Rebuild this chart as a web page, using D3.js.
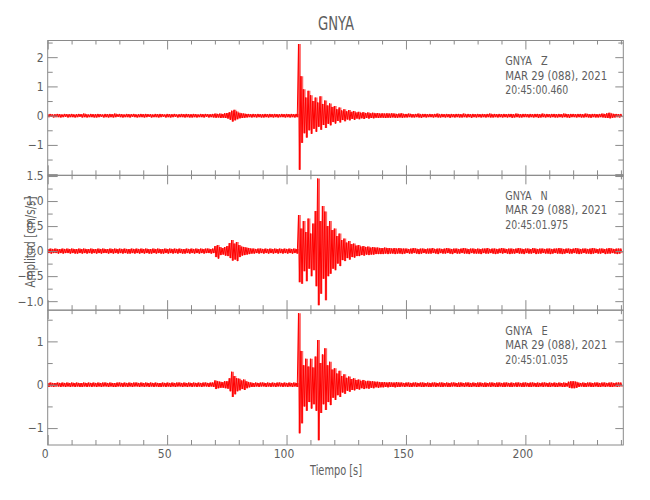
<!DOCTYPE html>
<html><head><meta charset="utf-8">
<script src="https://cdn.jsdelivr.net/npm/d3@7"></script>
<style>
body{margin:0;background:#fff}
svg{display:block}
text{font-family:"Liberation Sans Narrow","DejaVu Sans Condensed","Arial Narrow",sans-serif;fill:#5e5e5e}
</style>
</head><body><svg id="chart" width="650" height="500"></svg>
<script>
const station = "GNYA";
const components = ["Z","N","E"];
const dateLabel = "MAR 29 (088), 2021";
const startTimes = ["20:45:00.460","20:45:01.975","20:45:01.035"];
const xLabel = "Tiempo [s]";
const yLabel = "Amplitud [cm/s/s]";
const xTicks = [0,50,100,150,200];
const yTicksZ = [-1,0,1,2];
const yTicksN = [-1.0,-0.5,0.0,0.5,1.0,1.5];
const yTicksE = [-1,0,1];

// positive peaks at t = i s, negative troughs at t = i + 0.5 s
const zPeaks = [
0.05,0.06,0.04,0.05,0.06,0.05,0.04,0.06,0.05,0.05,
0.06,0.04,0.05,0.06,0.05,0.07,0.05,0.04,0.06,0.05,
0.05,0.06,0.05,0.04,0.06,0.05,0.06,0.05,0.07,0.05,
0.06,0.05,0.04,0.06,0.05,0.05,0.06,0.04,0.05,0.06,
0.05,0.06,0.05,0.05,0.04,0.06,0.05,0.06,0.05,0.04,
0.06,0.05,0.05,0.06,0.04,0.05,0.06,0.05,0.06,0.05,
0.05,0.06,0.05,0.04,0.06,0.05,0.06,0.05,0.05,0.06,
0.07,0.06,0.07,0.06,0.08,0.09,0.12,0.17,0.2,0.14,
0.1,0.08,0.07,0.06,0.06,0.05,0.06,0.05,0.06,0.05,
0.05,0.06,0.05,0.06,0.05,0.06,0.05,0.05,0.06,0.05,
0.06,0.05,0.06,0.05,0.06,2.45,1.35,0.9,0.62,0.85,
0.7,0.5,0.62,0.45,0.66,0.4,0.52,0.35,0.42,0.3,
0.33,0.22,0.28,0.18,0.22,0.15,0.19,0.13,0.16,0.11,
0.13,0.1,0.12,0.09,0.11,0.08,0.1,0.08,0.09,0.07,
0.08,0.07,0.08,0.07,0.08,0.07,0.06,0.07,0.08,0.06,
0.06,0.07,0.06,0.05,0.06,0.07,0.05,0.06,0.06,0.05,
0.06,0.05,0.06,0.07,0.05,0.06,0.05,0.06,0.05,0.06,
0.05,0.06,0.06,0.05,0.07,0.05,0.06,0.05,0.06,0.05,
0.06,0.05,0.06,0.05,0.06,0.07,0.05,0.06,0.05,0.06,
0.05,0.06,0.05,0.06,0.06,0.05,0.07,0.06,0.05,0.06,
0.06,0.05,0.06,0.05,0.06,0.06,0.05,0.07,0.05,0.06,
0.05,0.06,0.06,0.05,0.06,0.05,0.07,0.06,0.05,0.06,
0.06,0.05,0.06,0.06,0.05,0.07,0.06,0.05,0.06,0.06,
0.05,0.06,0.07,0.06,0.08,0.1,0.07,0.06,0.06,0.05,
0.06];
const zTroughs = [
-0.05,-0.04,-0.06,-0.05,-0.05,-0.06,-0.05,-0.04,-0.06,-0.05,
-0.05,-0.06,-0.05,-0.04,-0.06,-0.05,-0.06,-0.05,-0.05,-0.06,
-0.06,-0.05,-0.04,-0.06,-0.05,-0.06,-0.05,-0.06,-0.05,-0.04,
-0.05,-0.06,-0.05,-0.05,-0.06,-0.04,-0.05,-0.06,-0.05,-0.05,
-0.06,-0.05,-0.04,-0.06,-0.05,-0.05,-0.06,-0.05,-0.04,-0.06,
-0.05,-0.06,-0.05,-0.04,-0.06,-0.05,-0.05,-0.06,-0.05,-0.06,
-0.06,-0.05,-0.06,-0.05,-0.05,-0.06,-0.04,-0.06,-0.05,-0.06,
-0.07,-0.06,-0.08,-0.07,-0.08,-0.1,-0.14,-0.2,-0.16,-0.12,
-0.09,-0.08,-0.07,-0.06,-0.05,-0.06,-0.05,-0.06,-0.05,-0.06,
-0.06,-0.05,-0.06,-0.05,-0.06,-0.05,-0.06,-0.05,-0.05,-0.06,
-0.05,-0.06,-0.05,-0.06,-0.05,-1.85,-0.93,-0.6,-0.75,-0.5,
-0.62,-0.45,-0.55,-0.38,-0.48,-0.32,-0.42,-0.28,-0.33,-0.22,
-0.27,-0.18,-0.23,-0.15,-0.19,-0.13,-0.16,-0.11,-0.14,-0.1,
-0.12,-0.09,-0.11,-0.08,-0.1,-0.08,-0.09,-0.07,-0.08,-0.07,
-0.07,-0.08,-0.07,-0.07,-0.06,-0.07,-0.07,-0.06,-0.07,-0.06,
-0.06,-0.05,-0.06,-0.06,-0.05,-0.06,-0.07,-0.05,-0.06,-0.05,
-0.05,-0.06,-0.05,-0.06,-0.06,-0.05,-0.06,-0.05,-0.07,-0.05,
-0.06,-0.05,-0.06,-0.06,-0.05,-0.06,-0.05,-0.07,-0.05,-0.06,
-0.05,-0.06,-0.05,-0.06,-0.05,-0.06,-0.06,-0.05,-0.06,-0.05,
-0.06,-0.05,-0.06,-0.05,-0.07,-0.06,-0.05,-0.06,-0.06,-0.05,
-0.05,-0.06,-0.05,-0.06,-0.05,-0.07,-0.06,-0.05,-0.06,-0.05,
-0.06,-0.05,-0.06,-0.06,-0.05,-0.06,-0.05,-0.06,-0.07,-0.05,
-0.05,-0.06,-0.05,-0.06,-0.06,-0.05,-0.06,-0.07,-0.05,-0.06,
-0.06,-0.05,-0.06,-0.07,-0.08,-0.09,-0.07,-0.06,-0.05,-0.06,
-0.05];

const nPeaks = [
0.04,0.05,0.04,0.05,0.04,0.04,0.05,0.04,0.05,0.04,
0.05,0.04,0.04,0.05,0.04,0.05,0.04,0.04,0.05,0.04,
0.04,0.05,0.04,0.05,0.04,0.04,0.05,0.04,0.05,0.04,
0.05,0.04,0.05,0.04,0.04,0.05,0.04,0.05,0.04,0.05,
0.04,0.05,0.04,0.04,0.05,0.04,0.05,0.04,0.04,0.05,
0.04,0.05,0.04,0.05,0.04,0.05,0.04,0.04,0.05,0.04,
0.05,0.04,0.05,0.04,0.05,0.04,0.05,0.05,0.04,0.05,
0.1,0.12,0.08,0.06,0.08,0.1,0.16,0.22,0.15,0.18,
0.12,0.09,0.08,0.07,0.06,0.05,0.05,0.04,0.05,0.05,
0.04,0.05,0.04,0.05,0.04,0.05,0.04,0.05,0.04,0.05,
0.04,0.05,0.04,0.05,0.04,0.72,0.45,0.6,0.38,0.65,
0.35,0.55,0.8,1.45,0.6,0.9,0.79,0.5,0.6,0.42,
0.45,0.3,0.35,0.22,0.25,0.17,0.2,0.14,0.15,0.11,
0.12,0.09,0.1,0.08,0.09,0.07,0.08,0.07,0.07,0.06,
0.06,0.07,0.06,0.06,0.05,0.06,0.05,0.06,0.05,0.05,
0.05,0.04,0.05,0.06,0.05,0.04,0.05,0.05,0.04,0.05,
0.05,0.06,0.04,0.05,0.05,0.04,0.05,0.06,0.05,0.04,
0.05,0.05,0.04,0.05,0.06,0.05,0.04,0.05,0.05,0.04,
0.05,0.04,0.05,0.05,0.06,0.04,0.05,0.05,0.04,0.05,
0.06,0.05,0.04,0.05,0.05,0.04,0.05,0.06,0.05,0.04,
0.05,0.05,0.04,0.06,0.05,0.04,0.05,0.05,0.04,0.05,
0.05,0.04,0.05,0.05,0.06,0.05,0.04,0.05,0.05,0.04,
0.05,0.06,0.05,0.04,0.05,0.05,0.04,0.05,0.06,0.05,
0.04,0.05,0.05,0.04,0.05,0.06,0.05,0.04,0.05,0.05,
0.05];
const nTroughs = [
-0.04,-0.05,-0.04,-0.04,-0.05,-0.04,-0.05,-0.04,-0.04,-0.05,
-0.04,-0.05,-0.05,-0.04,-0.05,-0.04,-0.05,-0.04,-0.05,-0.04,
-0.05,-0.04,-0.05,-0.04,-0.04,-0.05,-0.04,-0.05,-0.04,-0.05,
-0.04,-0.05,-0.04,-0.05,-0.05,-0.04,-0.05,-0.04,-0.05,-0.04,
-0.05,-0.04,-0.05,-0.05,-0.04,-0.05,-0.04,-0.05,-0.05,-0.04,
-0.05,-0.04,-0.05,-0.04,-0.05,-0.04,-0.05,-0.05,-0.04,-0.05,
-0.04,-0.05,-0.04,-0.05,-0.04,-0.05,-0.04,-0.04,-0.05,-0.04,
-0.12,-0.15,-0.08,-0.07,-0.09,-0.1,-0.14,-0.19,-0.17,-0.2,
-0.12,-0.09,-0.08,-0.07,-0.06,-0.05,-0.05,-0.04,-0.05,-0.04,
-0.05,-0.04,-0.05,-0.04,-0.05,-0.04,-0.05,-0.04,-0.05,-0.04,
-0.05,-0.04,-0.05,-0.04,-0.05,-0.62,-0.65,-0.4,-0.6,-0.35,
-0.5,-0.38,-0.7,-1.08,-0.85,-0.55,-0.98,-0.5,-0.45,-0.35,
-0.38,-0.25,-0.3,-0.18,-0.2,-0.14,-0.17,-0.12,-0.13,-0.1,
-0.1,-0.08,-0.09,-0.07,-0.08,-0.07,-0.07,-0.06,-0.06,-0.06,
-0.06,-0.05,-0.06,-0.05,-0.05,-0.06,-0.05,-0.05,-0.06,-0.05,
-0.04,-0.05,-0.05,-0.04,-0.05,-0.06,-0.05,-0.04,-0.05,-0.05,
-0.05,-0.04,-0.05,-0.06,-0.04,-0.05,-0.05,-0.04,-0.05,-0.06,
-0.04,-0.05,-0.05,-0.04,-0.05,-0.05,-0.06,-0.04,-0.05,-0.05,
-0.05,-0.06,-0.04,-0.05,-0.05,-0.04,-0.05,-0.06,-0.05,-0.04,
-0.05,-0.04,-0.05,-0.06,-0.05,-0.05,-0.04,-0.05,-0.05,-0.06,
-0.04,-0.05,-0.05,-0.04,-0.06,-0.05,-0.05,-0.04,-0.05,-0.05,
-0.06,-0.05,-0.04,-0.05,-0.05,-0.06,-0.05,-0.04,-0.05,-0.05,
-0.04,-0.05,-0.06,-0.05,-0.04,-0.05,-0.05,-0.06,-0.05,-0.04,
-0.05,-0.05,-0.04,-0.06,-0.05,-0.05,-0.04,-0.05,-0.06,-0.05,
-0.04];

const ePeaks = [
0.04,0.05,0.04,0.04,0.05,0.04,0.05,0.04,0.05,0.04,
0.05,0.04,0.05,0.04,0.04,0.05,0.04,0.05,0.04,0.05,
0.04,0.05,0.04,0.05,0.05,0.04,0.05,0.04,0.04,0.05,
0.05,0.04,0.05,0.04,0.05,0.04,0.05,0.05,0.04,0.05,
0.04,0.05,0.04,0.05,0.04,0.05,0.04,0.04,0.05,0.04,
0.05,0.04,0.05,0.04,0.05,0.05,0.04,0.05,0.04,0.05,
0.04,0.05,0.04,0.05,0.04,0.05,0.05,0.04,0.05,0.05,
0.1,0.08,0.07,0.06,0.08,0.08,0.15,0.3,0.2,0.15,
0.14,0.1,0.12,0.08,0.06,0.05,0.04,0.05,0.04,0.05,
0.05,0.04,0.05,0.04,0.05,0.04,0.05,0.05,0.04,0.05,
0.04,0.05,0.04,0.05,0.04,1.65,0.78,0.45,0.6,0.42,
0.6,0.4,0.65,1.03,0.5,0.7,0.84,0.45,0.53,0.35,
0.38,0.26,0.32,0.2,0.24,0.16,0.19,0.13,0.15,0.11,
0.12,0.09,0.11,0.08,0.09,0.08,0.08,0.07,0.07,0.06,
0.06,0.06,0.05,0.06,0.05,0.05,0.06,0.05,0.05,0.04,
0.05,0.05,0.04,0.05,0.05,0.04,0.05,0.05,0.04,0.05,
0.04,0.05,0.05,0.04,0.05,0.05,0.04,0.05,0.04,0.05,
0.05,0.04,0.05,0.05,0.04,0.05,0.05,0.04,0.05,0.04,
0.05,0.05,0.04,0.05,0.04,0.05,0.05,0.04,0.05,0.05,
0.04,0.05,0.05,0.04,0.05,0.04,0.05,0.05,0.04,0.05,
0.05,0.04,0.05,0.05,0.04,0.05,0.04,0.05,0.05,0.04,
0.05,0.04,0.05,0.04,0.05,0.04,0.05,0.04,0.07,0.08,
0.08,0.07,0.05,0.04,0.05,0.04,0.05,0.05,0.04,0.05,
0.05,0.04,0.05,0.05,0.04,0.05,0.05,0.04,0.05,0.05,
0.05];
const eTroughs = [
-0.05,-0.04,-0.05,-0.04,-0.04,-0.05,-0.04,-0.05,-0.04,-0.05,
-0.04,-0.05,-0.04,-0.05,-0.05,-0.04,-0.05,-0.04,-0.05,-0.04,
-0.05,-0.04,-0.05,-0.04,-0.04,-0.05,-0.04,-0.05,-0.05,-0.04,
-0.04,-0.05,-0.04,-0.05,-0.04,-0.05,-0.04,-0.04,-0.05,-0.04,
-0.05,-0.04,-0.05,-0.04,-0.05,-0.04,-0.05,-0.05,-0.04,-0.05,
-0.04,-0.05,-0.04,-0.05,-0.04,-0.04,-0.05,-0.04,-0.05,-0.04,
-0.05,-0.04,-0.05,-0.04,-0.05,-0.04,-0.04,-0.05,-0.04,-0.05,
-0.1,-0.08,-0.07,-0.07,-0.08,-0.09,-0.15,-0.28,-0.22,-0.15,
-0.13,-0.1,-0.12,-0.08,-0.06,-0.05,-0.05,-0.04,-0.05,-0.04,
-0.04,-0.05,-0.04,-0.05,-0.04,-0.05,-0.04,-0.04,-0.05,-0.04,
-0.05,-0.04,-0.05,-0.04,-0.05,-1.12,-0.89,-0.5,-0.6,-0.4,
-0.55,-0.45,-0.6,-1.28,-0.65,-0.45,-0.58,-0.4,-0.47,-0.3,
-0.35,-0.24,-0.28,-0.18,-0.21,-0.14,-0.16,-0.12,-0.13,-0.1,
-0.11,-0.08,-0.1,-0.08,-0.09,-0.07,-0.08,-0.06,-0.07,-0.06,
-0.06,-0.05,-0.06,-0.05,-0.05,-0.06,-0.05,-0.05,-0.04,-0.05,
-0.04,-0.05,-0.05,-0.04,-0.05,-0.04,-0.05,-0.05,-0.04,-0.05,
-0.05,-0.04,-0.05,-0.04,-0.05,-0.05,-0.04,-0.05,-0.05,-0.04,
-0.04,-0.05,-0.05,-0.04,-0.05,-0.04,-0.05,-0.05,-0.04,-0.05,
-0.05,-0.04,-0.05,-0.05,-0.04,-0.05,-0.04,-0.05,-0.05,-0.04,
-0.05,-0.05,-0.04,-0.05,-0.05,-0.04,-0.05,-0.04,-0.05,-0.05,
-0.04,-0.05,-0.05,-0.04,-0.05,-0.05,-0.04,-0.05,-0.04,-0.05,
-0.05,-0.04,-0.05,-0.05,-0.04,-0.05,-0.05,-0.04,-0.07,-0.08,
-0.08,-0.07,-0.05,-0.04,-0.05,-0.05,-0.04,-0.05,-0.05,-0.04,
-0.05,-0.05,-0.04,-0.05,-0.04,-0.05,-0.05,-0.04,-0.05,-0.04,
-0.05];

const panels = [
  {comp: components[0], time: startTimes[0], peaks: zPeaks, troughs: zTroughs, domain: [-2.04, 2.57], major: yTicksZ, extraMajor: [-2], minorStep: 0.5, fmt: d => d3.format(".0f")(d)},
  {comp: components[1], time: startTimes[1], peaks: nPeaks, troughs: nTroughs, domain: [-1.18, 1.514], major: yTicksN, extraMajor: [], minorStep: 0.25, fmt: d => d3.format(".1f")(d)},
  {comp: components[2], time: startTimes[2], peaks: ePeaks, troughs: eTroughs, domain: [-1.39, 1.72], major: yTicksE, extraMajor: [], minorStep: 0.5, fmt: d => d3.format(".0f")(d)}
];

const svg = d3.select("#chart");
const plotLeft = 47.7, plotRight = 623.3, plotTop = 40.5, plotBottom = 445;
const ph = (plotBottom - plotTop) / panels.length;
const axisColor = "#8a8a8a";

const x = d3.scaleLinear().domain([0, 241]).range([plotLeft, plotRight]);
const xMinor = d3.range(0, 241, 10).filter(v => !xTicks.includes(v));

function styleAxis(g) {
  g.select(".domain").remove();
  g.attr("color", axisColor).attr("font-size", 12).attr("font-family", null);
}

panels.forEach((p, k) => {
  const y0 = plotTop + k * ph, y1 = y0 + ph;
  const y = d3.scaleLinear().domain(p.domain).range([y1, y0]);
  const allMajor = p.major.concat(p.extraMajor);
  const majorsIn = p.major.filter(v => v >= p.domain[0] && v <= p.domain[1]);
  const tickMajors = allMajor.filter(v => v >= p.domain[0] && v <= p.domain[1]);
  const minors = d3.range(Math.ceil(p.domain[0] / p.minorStep) * p.minorStep, p.domain[1] + 1e-9, p.minorStep)
    .map(v => +v.toFixed(4)).filter(v => !allMajor.some(m => Math.abs(m - v) < 1e-6));

  const cid = "clip" + k;
  svg.append("clipPath").attr("id", cid).append("rect")
    .attr("x", plotLeft).attr("y", y0).attr("width", plotRight - plotLeft).attr("height", ph);

  const g = svg.append("g").attr("clip-path", `url(#${cid})`);
  const bins = p.peaks.map((v, i) => ({t: i, hi: v, lo: p.troughs[i] !== undefined ? p.troughs[i] : -v}));
  const area = d3.area().curve(d3.curveStepAfter).x(d => x(d.t)).y0(d => y(d.lo)).y1(d => y(d.hi));
  g.append("path").attr("d", area(bins)).attr("fill", "#ff0000").attr("fill-opacity", 0.6);
  const pts = [];
  p.peaks.forEach((v, i) => { pts.push([i, v]); if (i < p.troughs.length) pts.push([i + 0.5, p.troughs[i]]); });
  const line = d3.line().x(d => x(d[0])).y(d => y(d[1]));
  g.append("path").attr("d", line(pts)).attr("fill", "none").attr("stroke", "#ff0000")
    .attr("stroke-width", 1);

  svg.append("g").attr("transform", `translate(${plotLeft},0)`)
    .call(d3.axisLeft(y).tickValues(majorsIn)
      .tickSize(-10).tickPadding(4).tickFormat(d => p.fmt(d).replace("-", "\u2212")))
    .call(styleAxis);
  svg.append("g").attr("transform", `translate(${plotLeft},0)`)
    .call(d3.axisLeft(y).tickValues(tickMajors.filter(v => !majorsIn.includes(v))).tickSize(-10).tickFormat(""))
    .call(styleAxis);
  svg.append("g").attr("transform", `translate(${plotLeft},0)`)
    .call(d3.axisLeft(y).tickValues(minors).tickSize(-5).tickFormat(""))
    .call(styleAxis);
  svg.append("g").attr("transform", `translate(${plotRight},0)`)
    .call(d3.axisRight(y).tickValues(tickMajors).tickSize(-8).tickFormat(""))
    .call(styleAxis);
  svg.append("g").attr("transform", `translate(${plotRight},0)`)
    .call(d3.axisRight(y).tickValues(minors).tickSize(-5).tickFormat(""))
    .call(styleAxis);
  svg.append("g").attr("transform", `translate(0,${y0})`)
    .call(d3.axisTop(x).tickValues(xTicks).tickSize(-9).tickFormat(""))
    .call(styleAxis);
  svg.append("g").attr("transform", `translate(0,${y0})`)
    .call(d3.axisTop(x).tickValues(xMinor).tickSize(-4).tickFormat(""))
    .call(styleAxis);
  const last = k === panels.length - 1;
  const bx = svg.append("g").attr("transform", `translate(0,${y1})`)
    .call(d3.axisBottom(x).tickValues(xTicks).tickSize(-10).tickPadding(4).tickFormat(last ? d3.format("d") : ""))
    .call(styleAxis);
  bx.selectAll("text").attr("dx", -3);
  svg.append("g").attr("transform", `translate(0,${y1})`)
    .call(d3.axisBottom(x).tickValues(xMinor).tickSize(-5).tickFormat(""))
    .call(styleAxis);

  svg.append("rect").attr("x", plotLeft).attr("y", y0).attr("width", plotRight - plotLeft).attr("height", ph)
    .attr("fill", "none").attr("stroke", axisColor).attr("stroke-width", 1);

  const ann = svg.append("g").attr("font-size", 12.5);
  ann.append("text").attr("x", 505.3).attr("y", y0 + 24.5).attr("textLength", 42.5).attr("lengthAdjust", "spacingAndGlyphs")
    .style("white-space", "pre").text(station + "   " + p.comp);
  ann.append("text").attr("x", 505.3).attr("y", y0 + 39).attr("textLength", 102).attr("lengthAdjust", "spacingAndGlyphs")
    .text(dateLabel);
  ann.append("text").attr("x", 505.3).attr("y", y0 + 53.5).attr("textLength", 63).attr("lengthAdjust", "spacingAndGlyphs")
    .text(p.time);
});

svg.append("text").attr("x", 336).attr("y", 30).attr("text-anchor", "middle")
  .attr("font-size", 20).attr("textLength", 36).attr("lengthAdjust", "spacingAndGlyphs").text(station);
svg.append("text").attr("x", 336).attr("y", 475).attr("text-anchor", "middle")
  .attr("font-size", 14).attr("textLength", 52).attr("lengthAdjust", "spacingAndGlyphs").text(xLabel);
svg.append("text").attr("transform", "translate(35,242) rotate(-90)").attr("text-anchor", "middle")
  .attr("font-size", 14).attr("textLength", 91).attr("lengthAdjust", "spacingAndGlyphs").text(yLabel);
</script>
</body></html>
